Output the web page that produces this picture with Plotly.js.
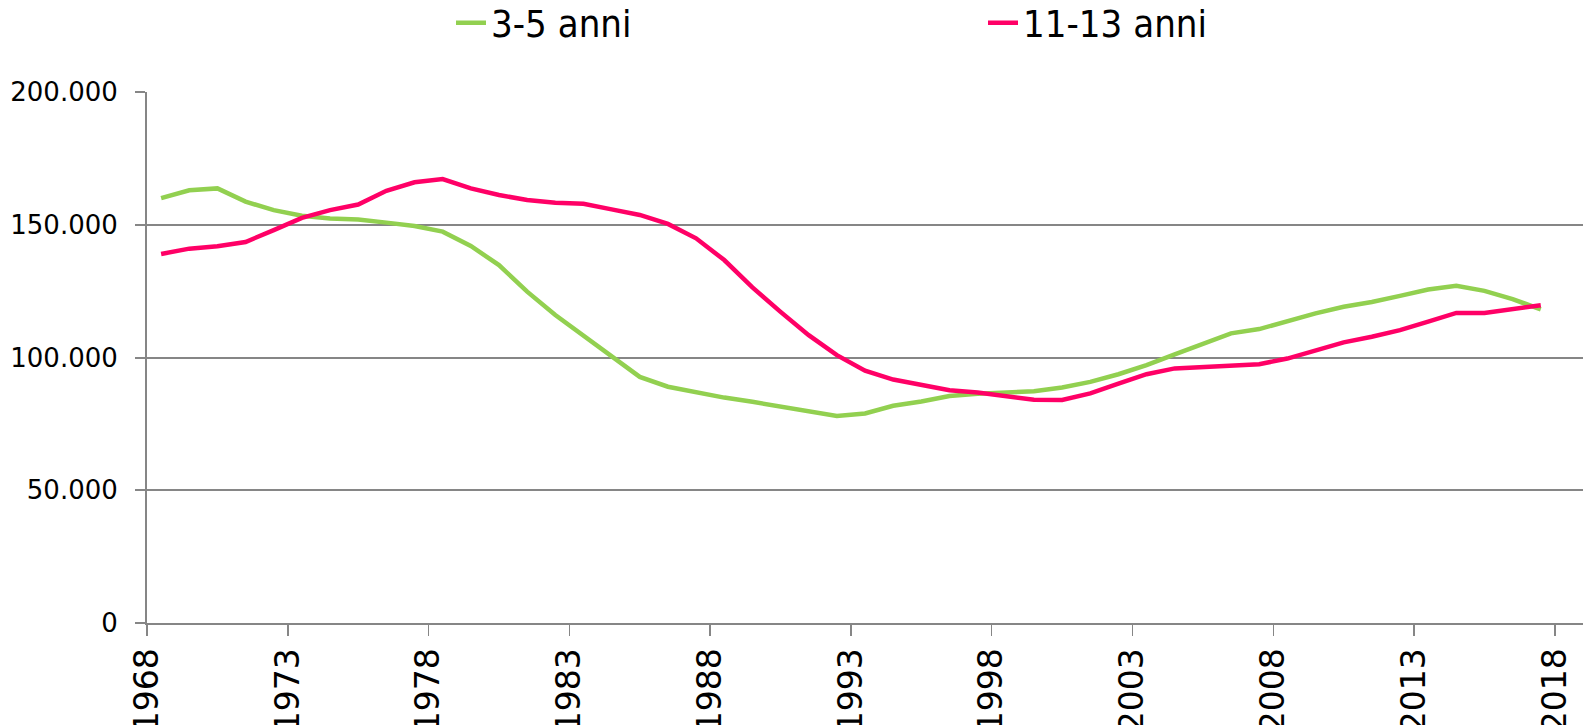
<!DOCTYPE html>
<html>
<head>
<meta charset="utf-8">
<script src="https://cdn.plot.ly/plotly-3.0.1.min.js"></script>
<style>html,body{margin:0;padding:0;background:#fff;}#chart{width:1587px;height:725px;}</style>
</head>
<body>
<div id="chart"></div>
<script>
const years = ['1968','1969','1970','1971','1972','1973','1974','1975','1976','1977',
  '1978','1979','1980','1981','1982','1983','1984','1985','1986','1987',
  '1988','1989','1990','1991','1992','1993','1994','1995','1996','1997',
  '1998','1999','2000','2001','2002','2003','2004','2005','2006','2007',
  '2008','2009','2010','2011','2012','2013','2014','2015','2016','2017'];

const seriesNames = ['3-5 anni', '11-13 anni'];

const anni3_5 = [160000,163000,163700,158700,155500,153400,152400,152000,150800,149500,
  147400,142000,134800,124800,116000,108200,100000,92700,89000,86800,
  84900,83300,81400,79900,78000,78900,81800,83400,85500,86300,
  86800,87300,88700,90800,93700,97100,101200,105000,109100,110700,
  113800,116600,119100,120900,123200,125600,127000,125100,122000,118100];

const anni11_13 = [139000,141000,141900,143500,148000,152600,155500,157600,162800,166000,
  167200,163700,161200,159300,158300,157900,155800,153700,150300,144900,
  136700,126400,117200,108400,100900,95000,91700,89600,87700,86800,
  85300,84100,84000,86500,90200,93700,95900,96300,96800,97500,
  99600,102500,105700,107800,110300,113500,116800,116800,118200,119700];

const tickYears = ['1968','1973','1978','1983','1988','1993','1998','2003','2008','2013','2018'];

const colors = ['#92D050', '#FF0066'];
const gridCol = '#868686';

const traces = [anni3_5, anni11_13].map((vals, k) => ({
  type: 'scatter',
  mode: 'lines',
  name: seriesNames[k],
  x: years,
  y: vals,
  xperiod: 'M12',
  xperiodalignment: 'middle',
  line: {color: colors[k], width: 4.5},
  hoverinfo: 'x+y'
}));

const layout = {
  width: 1587,
  height: 725,
  margin: {l: 147, r: 4, t: 92, b: 102, pad: 0, autoexpand: false},
  paper_bgcolor: '#ffffff',
  plot_bgcolor: '#ffffff',
  separators: ',.',
  showlegend: true,
  legend: {
    orientation: 'h',
    x: 0.2117, xanchor: 'left',
    y: 1.13, yanchor: 'middle',
    font: {family: 'DejaVu Sans Condensed, DejaVu Sans', size: 38, color: '#000'},
    entrywidth: 487,
    entrywidthmode: 'pixels',
    bgcolor: 'rgba(0,0,0,0)',
    borderwidth: 0
  },
  xaxis: {
    type: 'date',
    range: ['1968-01-01', '2019-01-01'],
    tick0: tickYears[0] + '-01-01',
    dtick: 'M60',
    tickformat: '%Y',
    tickangle: -90,
    ticks: 'outside',
    ticklen: 11,
    tickwidth: 1.5,
    tickcolor: gridCol,
    ticklabelstandoff: -1,
    showline: true,
    linecolor: gridCol,
    linewidth: 2,
    showgrid: false,
    zeroline: false,
    automargin: false,
    tickfont: {family: 'DejaVu Sans', size: 33, color: '#000'}
  },
  yaxis: {
    range: [0, 200000],
    dtick: 50000,
    tick0: 0,
    tickformat: ',d',
    ticks: 'outside',
    ticklen: 10,
    tickwidth: 2,
    tickcolor: gridCol,
    ticklabelstandoff: 12,
    showline: true,
    linecolor: gridCol,
    linewidth: 2,
    showgrid: true,
    gridcolor: gridCol,
    gridwidth: 2,
    zeroline: false,
    automargin: false,
    tickfont: {family: 'DejaVu Sans', size: 26, color: '#000'}
  }
};

Plotly.newPlot('chart', traces, layout, {displayModeBar: false, staticPlot: true});
</script>
</body>
</html>
